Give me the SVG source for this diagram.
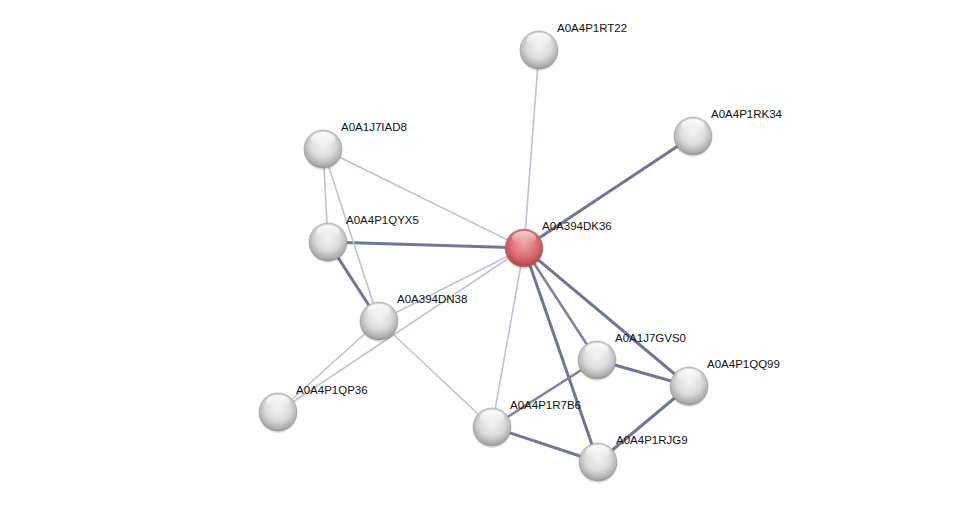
<svg xmlns="http://www.w3.org/2000/svg" width="975" height="507" viewBox="0 0 975 507">
<defs>
<radialGradient id="gw" cx="0.5" cy="0.4" r="0.65">
<stop offset="0" stop-color="#f2f2f2"/>
<stop offset="0.5" stop-color="#dcdcdc"/>
<stop offset="0.85" stop-color="#a9a9a9"/>
<stop offset="1" stop-color="#6e6e6e"/>
</radialGradient>
<radialGradient id="gr" cx="0.5" cy="0.4" r="0.65">
<stop offset="0" stop-color="#eea0a2"/>
<stop offset="0.5" stop-color="#dc7276"/>
<stop offset="0.85" stop-color="#be4a4f"/>
<stop offset="1" stop-color="#8a2a2e"/>
</radialGradient>
<linearGradient id="hl" x1="0" y1="0" x2="0" y2="1">
<stop offset="0" stop-color="#ffffff" stop-opacity="0.95"/>
<stop offset="1" stop-color="#ffffff" stop-opacity="0"/>
</linearGradient>
</defs>
<style>
.lt{stroke:#bfc2d3;stroke-width:1.6;fill:none}
.dk{stroke:#6f7793;stroke-width:3;fill:none}
.md{stroke:#7d84a0;stroke-width:2.6;fill:none}
.ball{stroke:#8c8c8c;stroke-width:0.5}
.sh{fill:#000;opacity:0.12}
text{font-family:"Liberation Sans",Arial,sans-serif;font-size:11.5px;fill:#111}
</style>
<rect width="975" height="507" fill="#fff"/>
<g id="edges">
<line class="lt" x1="524" y1="248" x2="539" y2="50"/>
<line class="dk" x1="524" y1="248" x2="693" y2="136"/>
<line class="lt" x1="524" y1="248" x2="323" y2="149"/>
<line class="dk" x1="524" y1="248" x2="328" y2="242"/>
<line class="lt" x1="524" y1="248" x2="379" y2="321"/>
<line class="lt" x1="524" y1="248" x2="278" y2="412"/>
<line class="lt" x1="524" y1="248" x2="492" y2="427"/>
<line class="md" x1="524" y1="248" x2="597" y2="360"/>
<line class="dk" x1="524" y1="248" x2="689" y2="386"/>
<line class="dk" x1="524" y1="248" x2="598" y2="462"/>
<line class="lt" x1="323" y1="149" x2="328" y2="242"/>
<line class="lt" x1="323" y1="149" x2="379" y2="321"/>
<line class="dk" x1="328" y1="242" x2="379" y2="321"/>
<line class="lt" x1="379" y1="321" x2="278" y2="412"/>
<line class="lt" x1="379" y1="321" x2="492" y2="427"/>
<line class="md" x1="597" y1="360" x2="492" y2="427"/>
<line class="dk" x1="597" y1="360" x2="689" y2="386"/>
<line class="dk" x1="689" y1="386" x2="598" y2="462"/>
<line class="dk" x1="492" y1="427" x2="598" y2="462"/>
</g>
<g id="A0A4P1RT22"><ellipse class="sh" cx="539" cy="52" rx="19" ry="19"/><circle class="ball" cx="539" cy="50" r="19" fill="url(#gw)"/><ellipse cx="539" cy="40" rx="12" ry="7" fill="url(#hl)"/><text x="557" y="32">A0A4P1RT22</text></g>
<g id="A0A4P1RK34"><ellipse class="sh" cx="693" cy="138" rx="19" ry="19"/><circle class="ball" cx="693" cy="136" r="19" fill="url(#gw)"/><ellipse cx="693" cy="126" rx="12" ry="7" fill="url(#hl)"/><text x="711" y="118">A0A4P1RK34</text></g>
<g id="A0A1J7IAD8"><ellipse class="sh" cx="323" cy="151" rx="19" ry="19"/><circle class="ball" cx="323" cy="149" r="19" fill="url(#gw)"/><ellipse cx="323" cy="139" rx="12" ry="7" fill="url(#hl)"/><text x="341" y="131">A0A1J7IAD8</text></g>
<g id="A0A4P1QYX5"><ellipse class="sh" cx="328" cy="244" rx="19" ry="19"/><circle class="ball" cx="328" cy="242" r="19" fill="url(#gw)"/><ellipse cx="328" cy="232" rx="12" ry="7" fill="url(#hl)"/><text x="346" y="224">A0A4P1QYX5</text></g>
<g id="A0A394DN38"><ellipse class="sh" cx="379" cy="323" rx="19" ry="19"/><circle class="ball" cx="379" cy="321" r="19" fill="url(#gw)"/><ellipse cx="379" cy="311" rx="12" ry="7" fill="url(#hl)"/><text x="397" y="303">A0A394DN38</text></g>
<g id="A0A4P1QP36"><ellipse class="sh" cx="278" cy="414" rx="19" ry="19"/><circle class="ball" cx="278" cy="412" r="19" fill="url(#gw)"/><ellipse cx="278" cy="402" rx="12" ry="7" fill="url(#hl)"/><text x="296" y="394">A0A4P1QP36</text></g>
<g id="A0A1J7GVS0"><ellipse class="sh" cx="597" cy="362" rx="19" ry="19"/><circle class="ball" cx="597" cy="360" r="19" fill="url(#gw)"/><ellipse cx="597" cy="350" rx="12" ry="7" fill="url(#hl)"/><text x="615" y="342">A0A1J7GVS0</text></g>
<g id="A0A4P1QQ99"><ellipse class="sh" cx="689" cy="388" rx="19" ry="19"/><circle class="ball" cx="689" cy="386" r="19" fill="url(#gw)"/><ellipse cx="689" cy="376" rx="12" ry="7" fill="url(#hl)"/><text x="707" y="368">A0A4P1QQ99</text></g>
<g id="A0A4P1R7B6"><ellipse class="sh" cx="492" cy="429" rx="19" ry="19"/><circle class="ball" cx="492" cy="427" r="19" fill="url(#gw)"/><ellipse cx="492" cy="417" rx="12" ry="7" fill="url(#hl)"/><text x="510" y="409">A0A4P1R7B6</text></g>
<g id="A0A4P1RJG9"><ellipse class="sh" cx="598" cy="464" rx="19" ry="19"/><circle class="ball" cx="598" cy="462" r="19" fill="url(#gw)"/><ellipse cx="598" cy="452" rx="12" ry="7" fill="url(#hl)"/><text x="616" y="444">A0A4P1RJG9</text></g>
<g id="A0A394DK36"><ellipse class="sh" cx="524" cy="250" rx="19" ry="19"/><circle class="ball" cx="524" cy="248" r="19" fill="url(#gr)"/><ellipse cx="524" cy="238" rx="12" ry="7" fill="url(#hl)" opacity="0.7"/><text x="542" y="230">A0A394DK36</text></g>
</svg>
